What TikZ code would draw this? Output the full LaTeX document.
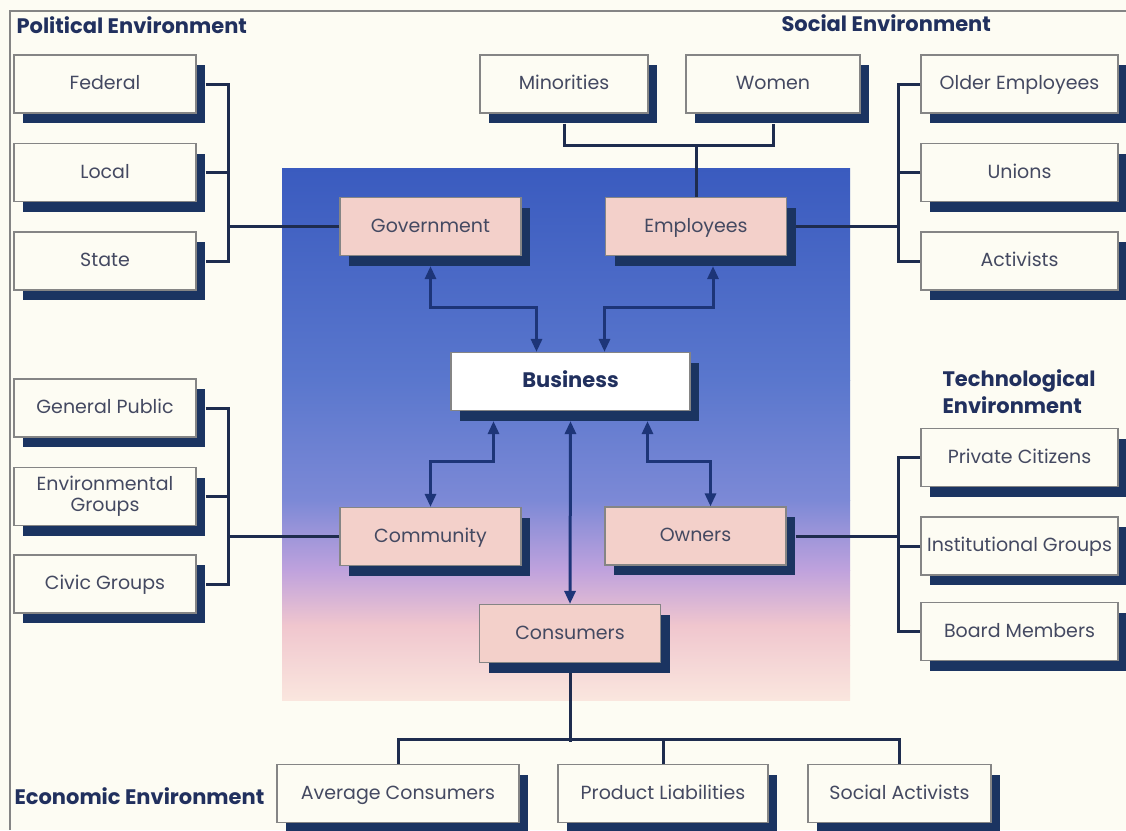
\documentclass[tikz,border=0pt]{standalone}
\usepackage{fontspec}
\setmainfont{Poppins}
\usetikzlibrary{arrows.meta,shadows,calc}
\definecolor{navy}{HTML}{1B3461}
\definecolor{ink}{HTML}{444961}
\definecolor{headink}{HTML}{21305E}
\definecolor{paper}{HTML}{FDFCF3}
\definecolor{rose}{HTML}{F3D0CA}
\definecolor{rim}{HTML}{858585}
\definecolor{wire}{HTML}{1E2C4E}
\definecolor{arrowblue}{HTML}{1D3578}
\definecolor{skyA}{HTML}{3A5BBF}
\definecolor{skyB}{HTML}{5A77CD}
\definecolor{skyC}{HTML}{7C89D6}
\definecolor{skyD}{HTML}{BFA2DD}
\definecolor{skyE}{HTML}{F0C6CE}
\definecolor{skyF}{HTML}{FAE6DE}
\tikzset{
  plate/.style={draw=rim, line width=1.2pt, minimum height=58pt, inner sep=2pt, text=ink, align=center,
    font=\fontsize{19}{21}\selectfont, text height=12pt, text depth=1pt,
    drop shadow={shadow xshift=9pt, shadow yshift=-10pt, fill=navy, opacity=1}},
  outbox/.style={plate, fill=paper, minimum width=#1},
  inbox/.style={plate, fill=rose, minimum width=181pt},
  head/.style={anchor=west, text=headink, align=left, font=\fontsize{21}{27}\selectfont\bfseries},
  link/.style={draw=wire, line width=3pt},
  biarrow/.style={draw=arrowblue, line width=3pt,
    {Triangle[length=13pt,width=11pt]}-{Triangle[length=13pt,width=11pt]}},
}

\begin{document}
\begin{tikzpicture}[x=1pt,y=-1pt]
\useasboundingbox (0,0) rectangle (1126,830);
\fill[paper] (0,0) rectangle (1126,830);
\draw[rim, line width=2pt] (10,830) -- (10,11) -- (1126,11);

% blue to rose panel behind the stakeholders
\shade[top color=skyA, bottom color=skyB] (282,168) rectangle (850,380.5);
\shade[top color=skyB, bottom color=skyC] (282,380) rectangle (850,500.5);
\shade[top color=skyC, bottom color=skyD] (282,500) rectangle (850,570.5);
\shade[top color=skyD, bottom color=skyE] (282,570) rectangle (850,625.5);
\shade[top color=skyE, bottom color=skyF] (282,625) rectangle (850,700);

% headings
\node[head] (polhead) at (13,25) {Political Environment};
\node[head] (sochead) at (778,23) {Social Environment};
\node[head] (techhead) at (939,392) {Technological\\Environment};
\node[head] (econhead) at (11,796) {Economic Environment};

\coordinate (polbar) at (228,0);
\coordinate (socbar) at (899,0);

% outer groups
\foreach \n/\y/\t in {federal/84/Federal, local/172.5/Local, state/261/State,
    genpub/408/General Public, civic/584/Civic Groups}
  {\node[outbox=182pt] (\n) at (105,\y) {\t};}
\node[outbox=182pt, text height={}, text depth={}] (envir) at (105,496.5) {Environmental\\Groups};
\foreach \n/\y/\t in {older/84/Older Employees, unions/172.5/Unions, activ/261/Activists,
    privc/457.5/Private Citizens, instg/546/Institutional Groups, board/631.5/Board Members}
  {\node[outbox=197pt] (\n) at (1019.5,\y) {\t};}
\node[outbox=168pt] (minor) at (564,84) {Minorities};
\node[outbox=174pt] (women) at (773,84) {Women};
\node[outbox=242pt] (avg) at (398,793.5) {Average Consumers};
\node[outbox=210pt] (prod) at (663,793.5) {Product Liabilities};
\node[outbox=183pt] (socact) at (899.5,793.5) {Social Activists};

% stakeholders
\node[inbox] (gov) at (430.5,226.5) {Government};
\node[inbox] (emp) at (696,226.5) {Employees};
\node[inbox] (comm) at (430.5,536.5) {Community};
\node[inbox] (own) at (695.5,536) {Owners};
\node[inbox] (cons) at (570,633.5) {Consumers};
\node[outbox=239pt, fill=white, text=headink, font=\fontsize{21}{24}\selectfont\bfseries] (bus) at (570.5,381.5) {Business};

% brackets
\draw[link] ([xshift=9pt]federal.east) -- ++(23,0) |- ([xshift=9pt]state.east);
\draw[link] ([xshift=9pt]local.east) -- ++(23,0);
\draw[link] (gov.west) -- (gov.west -| polbar);
\draw[link] (older.west) -- ++(-22,0) |- (activ.west);
\draw[link] (unions.west) -- ++(-22,0);
\draw[link] ([xshift=9pt]emp.east) -- (emp.east -| socbar);
\draw[link] ([yshift=-10pt]minor.south) -- ++(0,22) -| ([yshift=-10pt]women.south);
\draw[link] (emp.north) -- ++(0,-53);
\draw[link] ([xshift=9pt]genpub.east) -- ++(23,0) |- ([xshift=9pt]civic.east);
\draw[link] ([xshift=9pt]envir.east) -- ++(23,0);
\draw[link] (comm.west) -- (comm.west -| polbar);
\draw[link] (privc.west) -- ++(-22,0) |- (board.west);
\draw[link] (instg.west) -- ++(-22,0);
\draw[link] ([xshift=9pt]own.east) -- (own.east -| socbar);
\draw[link] ([yshift=-10pt]cons.south) -- ++(0,69);
\draw[link] (avg.north) -- ++(0,-24) -| (socact.north);
\draw[link] (prod.north) -- ++(0,-24);

% two-way ties with the business
\draw[biarrow] ([yshift=-10pt]gov.south) |- ([xshift=-34pt,yshift=44pt]bus.north) -- ([xshift=-34pt]bus.north);
\draw[biarrow] ([xshift=17pt,yshift=-10pt]emp.south) |- ([xshift=34pt,yshift=44pt]bus.north) -- ([xshift=34pt]bus.north);
\draw[biarrow] ([xshift=-77pt,yshift=-10pt]bus.south) |- ([yshift=45pt]comm.north) -- (comm.north);
\draw[biarrow] ([xshift=77pt,yshift=-10pt]bus.south) |- ([xshift=15pt,yshift=45pt]own.north) -- ([xshift=15pt]own.north);
\draw[biarrow] ([yshift=-10pt]bus.south) -- (cons.north);
\end{tikzpicture}
\end{document}
